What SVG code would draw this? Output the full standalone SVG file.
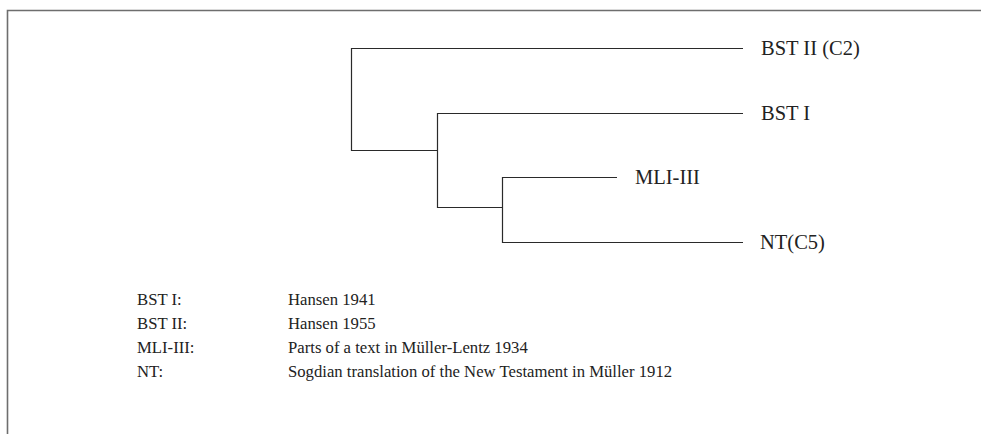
<svg xmlns="http://www.w3.org/2000/svg" width="981" height="434" viewBox="0 0 981 434">
  <style>
    .frame { fill: none; stroke: #6e6e6e; stroke-width: 1.6; }
    .edge { fill: none; stroke: #2a2a2a; stroke-width: 1.2; }
    .lbl { font-family: "Liberation Serif", "Times New Roman", serif; font-size: 20.5px; fill: #222; }
    .leg { font-family: "Liberation Serif", "Times New Roman", serif; font-size: 16.7px; fill: #222; }
  </style>
  <rect width="981" height="434" fill="#fff"/>
  <!-- page frame (top and left edges) -->
  <path class="frame" d="M7.5,434 V10.5 H981"/>

  <!-- tree branches -->
  <g id="connectors">
    <path class="edge" d="M743,48.5 H351.5 V150.5 H437.5"/>
    <path class="edge" d="M743,113.5 H437.5 V207.5 H502.5"/>
    <path class="edge" d="M617,177.5 H502.5 V242.5 H743"/>
  </g>

  <!-- leaves -->
  <g id="bst2"><text class="lbl" x="761" y="55">BST II (C2)</text></g>
  <g id="bst1"><text class="lbl" x="761" y="120">BST I</text></g>
  <g id="mli"><text class="lbl" x="635" y="184">MLI-III</text></g>
  <g id="nt"><text class="lbl" x="760" y="249">NT(C5)</text></g>

  <!-- key -->
  <g id="legend">
    <text class="leg" x="137" y="305">BST I:</text>
    <text class="leg" x="288" y="305">Hansen 1941</text>
    <text class="leg" x="137" y="329">BST II:</text>
    <text class="leg" x="288" y="329">Hansen 1955</text>
    <text class="leg" x="137" y="353">MLI-III:</text>
    <text class="leg" x="288" y="353">Parts of a text in Müller-Lentz 1934</text>
    <text class="leg" x="137" y="377">NT:</text>
    <text class="leg" x="288" y="377">Sogdian translation of the New Testament in Müller 1912</text>
  </g>
</svg>
